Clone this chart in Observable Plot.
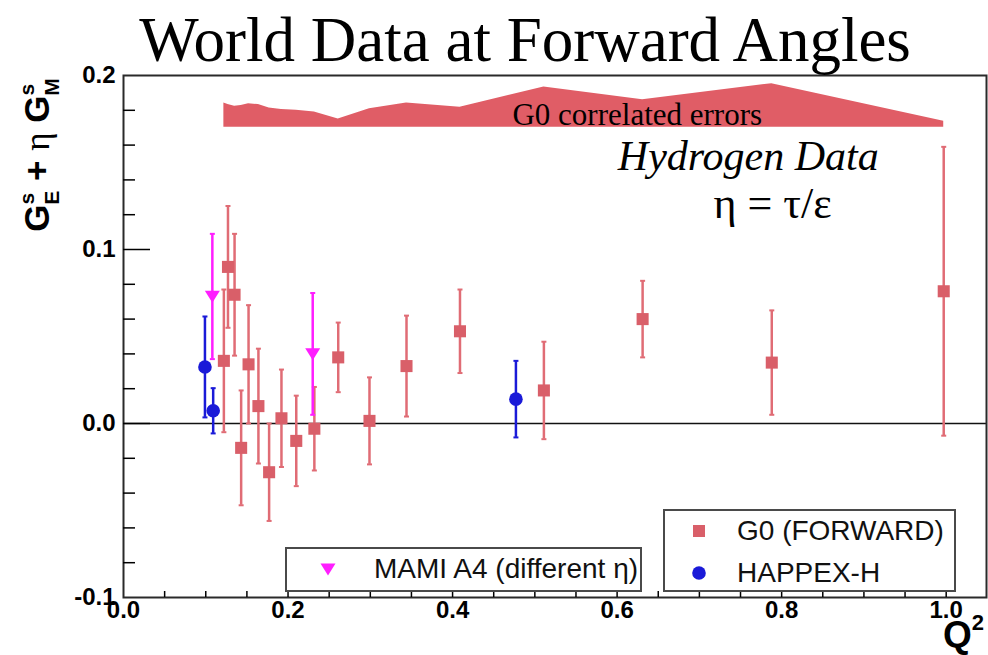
<!DOCTYPE html>
<html><head><meta charset="utf-8">
<script src="https://cdn.jsdelivr.net/npm/d3@7"></script>
<script src="https://cdn.jsdelivr.net/npm/@observablehq/plot@0.6"></script>
<style>
html,body{margin:0;padding:0;background:#fff;}
#wrap{position:relative;width:988px;height:655px;overflow:hidden;}
#title{position:absolute;left:31px;width:988px;top:9px;text-align:center;font-family:"Liberation Serif";font-size:63px;line-height:63px;white-space:nowrap;color:#000;}
.lg{position:absolute;border:2px solid #4a4a4a;background:#fff;box-sizing:border-box;font-family:"Liberation Sans";font-size:28px;color:#111;}
.lg .t{position:absolute;white-space:nowrap;line-height:1;transform:translateY(-50%);}
.lg svg{position:absolute;overflow:visible;}
</style></head><body>
<div id="wrap"><div id="chart"></div><div id="title">World Data at Forward Angles</div></div>
<script>
// ---- data ----
const g0Q2  = [0.122, 0.127, 0.135, 0.143, 0.152, 0.164, 0.177, 0.192, 0.210, 0.232, 0.261, 0.299, 0.344, 0.409, 0.511, 0.631, 0.788, 0.997];
const g0Val = [0.036, 0.090, 0.074, -0.014, 0.034, 0.010, -0.028, 0.003, -0.010, -0.003, 0.038, 0.0015, 0.033, 0.053, 0.019, 0.060, 0.035, 0.076];
const g0Err = [0.041, 0.035, 0.035, 0.033, 0.034, 0.033, 0.028, 0.028, 0.026, 0.024, 0.020, 0.025, 0.029, 0.024, 0.028, 0.022, 0.030, 0.083];
const happexQ2  = [0.099, 0.109, 0.477];
const happexVal = [0.0325, 0.0073, 0.014];
const happexErr = [0.029, 0.013, 0.022];
const mamiQ2  = [0.108, 0.230];
const mamiVal = [0.073, 0.040];
const mamiErr = [0.036, 0.035];
const bandTop = [0.1842, 0.1833, 0.1823, 0.1827, 0.1838, 0.1833, 0.1813, 0.1804, 0.1800, 0.1790, 0.1750, 0.1809, 0.1842, 0.1817, 0.1934, 0.1861, 0.1953, 0.1737];
const bandLow = 0.1702;
const xTickLabels = [0.0, 0.2, 0.4, 0.6, 0.8, 1.0];
const xMinorTicks = [0.05,0.1,0.15,0.25,0.3,0.35,0.45,0.5,0.55,0.65,0.7,0.75,0.85,0.9,0.95, 0.2,0.4,0.6,0.8,1.0];
const yTickLabels = [-0.1, 0.0, 0.1, 0.2];
const yMinorTicks = [-0.08,-0.06,-0.04,-0.02,0.02,0.04,0.06,0.08,0.12,0.14,0.16,0.18];
const yMajorTicks = [0.0, 0.1];
const noteText = ["G0 correlated errors", "Hydrogen Data", "η = τ/ε"];
const noteQ2 = [0.6245, 0.7594, 0.789];
const noteY  = [0.1771, 0.1533, 0.1262];
const legendLabels = ["MAMI A4 (different η)", "G0 (FORWARD)", "HAPPEX-H"];

const colG0 = "#d95f69", colG0bar = "#e06c75", colBand = "#e05d66", colBlue = "#1a1ad8", colMag = "#ff1eff";

const g0 = g0Q2.map((q, i) => ({q2: q, v: g0Val[i], e: g0Err[i]}));
const happex = happexQ2.map((q, i) => ({q2: q, v: happexVal[i], e: happexErr[i]}));
const mami = mamiQ2.map((q, i) => ({q2: q, v: mamiVal[i], e: mamiErr[i]}));
const band = g0Q2.map((q, i) => ({q2: q, lo: bandLow, hi: bandTop[i]}));
const notes = noteText.map((t, i) => ({t, q2: noteQ2[i], y: noteY[i]}));

const capSym = {draw(ctx, size){ const r = Math.sqrt(size/Math.PI); ctx.moveTo(-r,0); ctx.lineTo(r,0); }};
const downTri = {draw(ctx, size){ const r = Math.sqrt(size/Math.PI); ctx.moveTo(-r,-r*0.75); ctx.lineTo(r,-r*0.75); ctx.lineTo(0,r*0.85); ctx.closePath(); }};

function errMarks(data, stroke, sw) {
  return [
    Plot.ruleX(data, {x: "q2", y1: d => d.v - d.e, y2: d => d.v + d.e, stroke, strokeWidth: sw}),
    Plot.dot(data, {x: "q2", y: d => d.v + d.e, symbol: capSym, r: 2.5, stroke, strokeWidth: 2, fill: "none"}),
    Plot.dot(data, {x: "q2", y: d => d.v - d.e, symbol: capSym, r: 2.5, stroke, strokeWidth: 2, fill: "none"})
  ];
}

const chart = Plot.plot({
  width: 988, height: 655,
  marginTop: 75, marginRight: 2, marginBottom: 58, marginLeft: 123,
  style: {background: "transparent", fontFamily: "Liberation Sans", color: "#000", overflow: "visible"},
  x: {domain: [0, 1.049]},
  y: {domain: [-0.1, 0.2]},
  marks: [
    Plot.areaY(band, {x: "q2", y1: "lo", y2: "hi", fill: colBand}),
    Plot.text(notes.slice(0,1), {x: "q2", y: "y", text: "t", fontFamily: "Liberation Serif", fontSize: 31, fill: "#000"}),
    Plot.text(notes.slice(1,2), {x: "q2", y: "y", text: "t", fontFamily: "Liberation Serif", fontStyle: "italic", fontSize: 42, fill: "#000"}),
    Plot.text(notes.slice(2,3), {x: "q2", y: "y", text: "t", fontFamily: "Liberation Serif", fontSize: 44, fill: "#000"}),
    Plot.ruleY([0], {stroke: "#111", strokeWidth: 1.6}),
    ...errMarks(g0, colG0bar, 2.5),
    Plot.dot(g0, {x: "q2", y: "v", symbol: "square", r: 6.8, fill: colG0}),
    ...errMarks(mami, colMag, 2.5),
    Plot.dot(mami, {x: "q2", y: "v", symbol: downTri, r: 7.5, fill: colMag}),
    ...errMarks(happex, colBlue, 2.5),
    Plot.dot(happex, {x: "q2", y: "v", symbol: "circle", r: 6.8, fill: colBlue}),
    Plot.frame({stroke: "#2a2a2a", strokeWidth: 2}),
    Plot.axisX({ticks: xMinorTicks, tickSize: -6, tickFormat: () => "", label: null, strokeWidth: 1.5}),
    Plot.axisX({ticks: xTickLabels, tickSize: 0, tickPadding: 3, tickFormat: d => d.toFixed(1), fontSize: 24, fontWeight: "bold", label: null}),
    Plot.axisY({ticks: yMinorTicks, tickSize: -12, tickFormat: () => "", label: null, strokeWidth: 1.5}),
    Plot.axisY({ticks: yMajorTicks, tickSize: -27, tickFormat: () => "", label: null, strokeWidth: 1.5}),
    Plot.axisY({ticks: yTickLabels, tickSize: 0, tickPadding: 8, tickFormat: d => d.toFixed(1), fontSize: 24, fontWeight: "bold", label: null})
  ]
});
document.getElementById("chart").appendChild(chart);

// y-axis label with stacked sub/superscripts
const svg = d3.select(chart);
const yl = svg.append("text")
  .attr("transform", "translate(49,155) rotate(-90)")
  .attr("text-anchor", "middle")
  .attr("font-family", "Liberation Sans").attr("font-weight", "bold").attr("font-size", 35).attr("fill", "#000");
yl.append("tspan").text("G");
yl.append("tspan").attr("font-size", 21).attr("dy", -15).text("s");
yl.append("tspan").attr("font-size", 21).attr("dx", -12).attr("dy", 25).text("E");
yl.append("tspan").attr("dy", -10).text(" + ");
yl.append("tspan").attr("font-family", "Liberation Serif").attr("font-weight", "normal").text("η");
yl.append("tspan").text(" G");
yl.append("tspan").attr("font-size", 21).attr("dy", -15).text("s");
yl.append("tspan").attr("font-size", 21).attr("dx", -12).attr("dy", 25).text("M");

// x-axis label Q^2
const xl = svg.append("text").attr("x", 943).attr("y", 647).attr("text-anchor", "start")
  .attr("font-family", "Liberation Sans").attr("font-weight", "bold").attr("font-size", 37).attr("fill", "#000");
xl.append("tspan").text("Q");
xl.append("tspan").attr("font-size", 22).attr("dy", -17).text("2");

// legends
const wrap = document.getElementById("wrap");
function box(left, top, w, h) {
  const d = document.createElement("div"); d.className = "lg";
  Object.assign(d.style, {left: left + "px", top: top + "px", width: w + "px", height: h + "px"});
  wrap.appendChild(d); return d;
}
function entry(b, sx, sy, shape, color, tx, label) {
  const s = document.createElementNS("http://www.w3.org/2000/svg", "svg");
  s.setAttribute("width", 1); s.setAttribute("height", 1);
  s.style.left = sx + "px"; s.style.top = sy + "px";
  let el;
  if (shape === "square") { el = `<rect x="-6" y="-6" width="12" height="12" fill="${color}"/>`; }
  else if (shape === "circle") { el = `<circle r="6.8" fill="${color}"/>`; }
  else { el = `<path d="M-7.5,-5.6L7.5,-5.6L0,6.4Z" fill="${color}"/>`; }
  s.innerHTML = el; b.appendChild(s);
  const t = document.createElement("div"); t.className = "t"; t.textContent = label;
  t.style.left = tx + "px"; t.style.top = sy + "px"; b.appendChild(t);
}
const b1 = box(285, 547, 357, 45);
entry(b1, 41, 20, "tri", colMag, 87, legendLabels[0]);
const b2 = box(663, 509, 293, 83);
entry(b2, 34, 20, "square", colG0, 72, legendLabels[1]);
entry(b2, 34, 62, "circle", colBlue, 72, legendLabels[2]);
</script>
</body></html>
